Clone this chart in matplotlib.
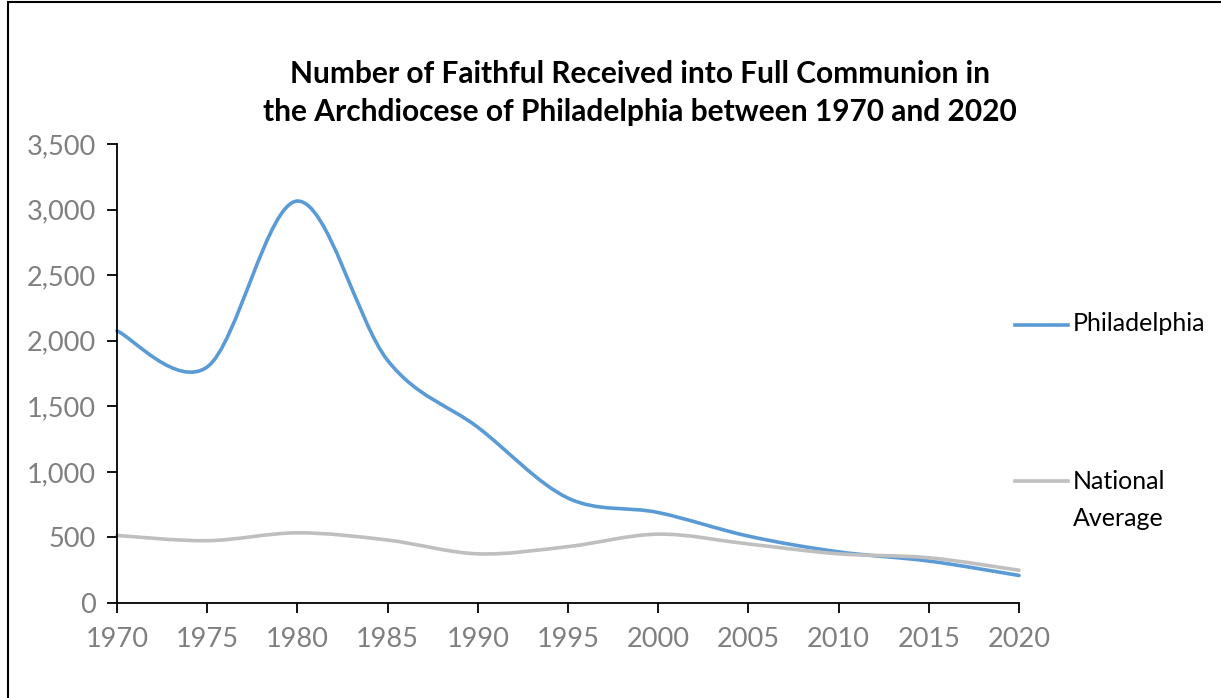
import matplotlib
matplotlib.use("Agg")
import matplotlib.pyplot as plt
import numpy as np
from matplotlib.path import Path
from matplotlib.patches import PathPatch, Rectangle
from matplotlib.lines import Line2D
from matplotlib.ticker import FuncFormatter

plt.rcParams["font.family"] = ["Lato", "DejaVu Sans"]

years = [1970, 1975, 1980, 1985, 1990, 1995, 2000, 2005, 2010, 2015, 2020]
philadelphia = [2075, 1800, 3065, 1850, 1340, 800, 690, 510, 390, 320, 210]
national = [515, 475, 535, 480, 375, 430, 525, 450, 375, 345, 250]

title = ("Number of Faithful Received into Full Communion in\n"
         "the Archdiocese of Philadelphia between 1970 and 2020")
series_names = ["Philadelphia", "National\nAverage"]
colors = ["#5B9BD5", "#BFBFBF"]


def smooth_path(x, y):
    """Excel-style smoothed line: cubic Bezier through every point."""
    x = np.asarray(x, float)
    y = np.asarray(y, float)
    pts = np.column_stack([x, y])
    n = len(pts)
    verts = [pts[0]]
    codes = [Path.MOVETO]
    for i in range(n - 1):
        p0 = pts[max(i - 1, 0)]
        p1 = pts[i]
        p2 = pts[i + 1]
        p3 = pts[min(i + 2, n - 1)]
        c1 = p1 + (p2 - p0) / 6.0
        c2 = p2 - (p3 - p1) / 6.0
        verts += [c1, c2, p2]
        codes += [Path.CURVE4] * 3
    return Path(verts, codes)


fig = plt.figure(figsize=(12.21, 6.98), dpi=100)
ax = fig.add_axes([117 / 1221, 1 - 603 / 698, (1019 - 117) / 1221, (603 - 144) / 698])

for vals, col in zip([philadelphia, national], colors):
    patch = PathPatch(smooth_path(years, vals), facecolor="none", edgecolor=col,
                      lw=2.6, capstyle="round", joinstyle="round", clip_on=False)
    ax.add_patch(patch)

ax.set_xlim(years[0], years[-1])
ax.set_ylim(0, 3500)
ax.set_xticks(years)
ax.set_yticks(np.arange(0, 3501, 500))
ax.yaxis.set_major_formatter(FuncFormatter(lambda v, p: f"{int(v):,}"))

for s in ["top", "right"]:
    ax.spines[s].set_visible(False)
for s in ["left", "bottom"]:
    ax.spines[s].set_linewidth(1.3)
    ax.spines[s].set_color("black")
ax.tick_params(axis="both", direction="out", length=7, width=1.3, color="black",
               labelcolor="#7F7F7F", labelsize=19.5)
ax.tick_params(axis="x", pad=10)
ax.tick_params(axis="y", pad=8)

fig.text(640 / 1221, 1 - 93 / 698, title, ha="center", va="center",
         fontsize=21.5, fontweight="bold", linespacing=1.45)

# legend, placed like Excel's right-side legend
leg_y = [1 - 325 / 698, 1 - 481 / 698]
for name, col, yy in zip(series_names, colors, leg_y):
    fig.add_artist(Line2D([1015 / 1221, 1068 / 1221], [yy, yy], color=col, lw=2.6))
    if "\n" in name:
        fig.text(1073 / 1221, yy + 11 / 698, name, ha="left", va="top",
                 fontsize=18, color="black", linespacing=1.75)
    else:
        fig.text(1073 / 1221, yy + 0.002, name, ha="left", va="center",
                 fontsize=18, color="black")

# outer chart frame
fig.add_artist(Rectangle((8 / 1221, -0.1), 1.2, 1.1 - 2 / 698, transform=fig.transFigure,
                         fill=False, edgecolor="black", lw=1.5))

fig.savefig("out.png", dpi=100, facecolor="white")
